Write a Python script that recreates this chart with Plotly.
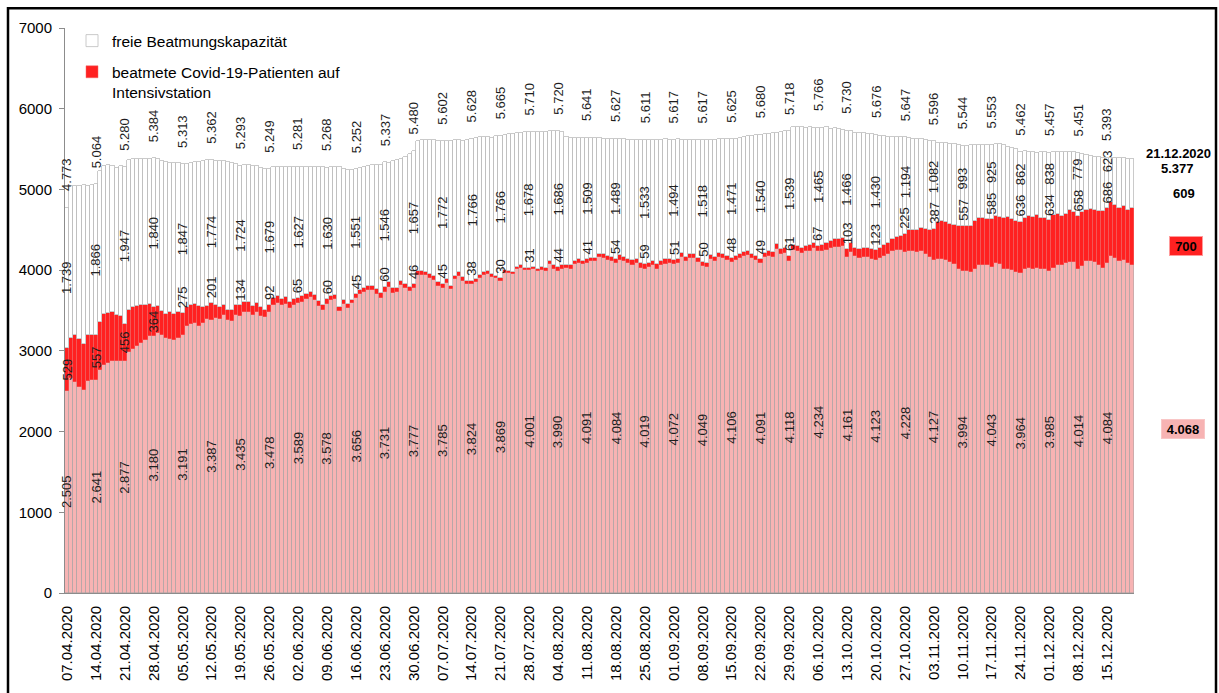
import plotly.graph_objects as go
import pandas as pd

# ---------------- data (daily values, 07.04.2020 - 21.12.2020) ----------------
start_date = "2020-04-07"

# beatmete Patienten ohne Covid-19 (rosa Sockel)
pink = [
    2505, 2661, 2620, 2558, 2517, 2628, 2640,
    2641, 2757, 2829, 2846, 2880, 2869, 2870,
    2877, 2982, 3021, 3056, 3095, 3130, 3182,
    3180, 3220, 3200, 3160, 3150, 3140, 3160,
    3191, 3311, 3330, 3350, 3311, 3351, 3396,
    3387, 3410, 3391, 3440, 3387, 3370, 3440,
    3435, 3482, 3477, 3443, 3484, 3436, 3414,
    3478, 3563, 3591, 3563, 3586, 3527, 3573,
    3589, 3610, 3641, 3663, 3632, 3561, 3509,
    3578, 3626, 3637, 3489, 3585, 3534, 3588,
    3656, 3710, 3724, 3755, 3752, 3709, 3659,
    3731, 3793, 3722, 3724, 3820, 3780, 3740,
    3777, 3946, 3945, 3935, 3905, 3884, 3803,
    3785, 3845, 3765, 3889, 3931, 3869, 3829,
    3824, 3852, 3902, 3936, 3957, 3917, 3898,
    3869, 3969, 3965, 3948, 4012, 4030, 3998,
    4001, 4011, 3985, 4003, 3993, 4073, 4018,
    3990, 4018, 4027, 4019, 4073, 4094, 4073,
    4091, 4112, 4110, 4157, 4155, 4125, 4115,
    4084, 4128, 4111, 4085, 4064, 4084, 4026,
    4019, 4035, 4058, 4018, 4061, 4082, 4083,
    4072, 4090, 4166, 4118, 4146, 4145, 4105,
    4049, 4044, 4135, 4119, 4169, 4148, 4128,
    4106, 4128, 4148, 4175, 4189, 4147, 4125,
    4091, 4165, 4179, 4169, 4262, 4199, 4218,
    4118, 4244, 4236, 4215, 4234, 4241, 4273,
    4234, 4234, 4253, 4277, 4292, 4287, 4302,
    4161, 4226, 4170, 4147, 4165, 4162, 4138,
    4123, 4150, 4174, 4199, 4238, 4245, 4244,
    4228, 4240, 4233, 4223, 4233, 4201, 4163,
    4127, 4143, 4134, 4126, 4102, 4073, 4012,
    3994, 3991, 3983, 4020, 4061, 4061, 4061,
    4043, 4085, 4073, 4020, 4020, 4004, 3971,
    3964, 4012, 4032, 4012, 4032, 4012, 4012,
    3985, 4032, 4061, 4060, 4093, 4102, 4102,
    4014, 4053, 4114, 4114, 4102, 4061, 4032,
    4084, 4175, 4155, 4114, 4126, 4093, 4068,
]

# beatmete Covid-19-Patienten auf Intensivstation
covid = [
    529, 503, 581, 586, 574, 565, 561,
    557, 600, 630, 625, 600, 570, 560,
    456, 530, 520, 505, 475, 440, 400,
    364, 335, 300, 300, 330, 320, 320,
    275, 230, 240, 232, 250, 190, 165,
    201, 160, 150, 130, 125, 142, 130,
    134, 128, 125, 118, 110, 105, 98,
    92, 88, 85, 80, 78, 75, 70,
    65, 66, 64, 62, 60, 62, 61,
    60, 58, 55, 52, 50, 48, 47,
    45, 48, 50, 52, 55, 57, 58,
    60, 55, 52, 50, 48, 47, 46,
    46, 45, 46, 44, 45, 46, 45,
    45, 44, 42, 41, 40, 40, 39,
    38, 37, 36, 35, 34, 33, 32,
    30, 31, 30, 31, 32, 31, 30,
    31, 33, 35, 37, 39, 41, 43,
    44, 43, 42, 42, 41, 40, 41,
    41, 43, 45, 47, 49, 50, 52,
    54, 55, 56, 57, 58, 58, 59,
    59, 58, 56, 55, 53, 52, 51,
    51, 52, 50, 49, 50, 51, 50,
    50, 49, 48, 48, 47, 48, 47,
    48, 47, 48, 49, 48, 49, 50,
    49, 51, 53, 55, 57, 58, 60,
    61, 62, 62, 63, 64, 65, 66,
    67, 72, 78, 83, 88, 93, 98,
    103, 105, 108, 110, 113, 116, 119,
    123, 128, 132, 140, 150, 168, 185,
    225, 255, 270, 280, 290, 310, 340,
    387, 450, 471, 467, 475, 491, 540,
    557, 561, 569, 585, 585, 585, 573,
    585, 590, 585, 626, 638, 630, 634,
    636, 634, 634, 646, 655, 634, 634,
    634, 655, 638, 615, 606, 638, 614,
    658, 663, 626, 643, 638, 667, 696,
    686, 664, 655, 655, 672, 655, 700,
]

# Gesamte Beatmungskapazitaet (Summe)
gesamt = [
    4773, 5040, 5048, 5045, 5050, 5042, 5055,
    5064, 5230, 5290, 5300, 5285, 5270, 5290,
    5280, 5370, 5375, 5378, 5380, 5372, 5378,
    5384, 5375, 5350, 5335, 5330, 5328, 5330,
    5313, 5320, 5328, 5335, 5340, 5350, 5360,
    5362, 5355, 5350, 5352, 5345, 5330, 5315,
    5293, 5301, 5300, 5289, 5288, 5265, 5252,
    5249, 5281, 5282, 5283, 5282, 5281, 5282,
    5281, 5281, 5276, 5280, 5283, 5280, 5273,
    5268, 5278, 5278, 5272, 5256, 5240, 5245,
    5252, 5260, 5281, 5288, 5297, 5297, 5298,
    5337, 5330, 5354, 5370, 5383, 5403, 5444,
    5480, 5600, 5610, 5615, 5612, 5608, 5600,
    5602, 5598, 5605, 5612, 5610, 5605, 5615,
    5628, 5640, 5650, 5655, 5645, 5640, 5660,
    5665, 5670, 5685, 5690, 5700, 5705, 5712,
    5710, 5708, 5712, 5715, 5712, 5725, 5722,
    5720, 5715, 5645, 5640, 5642, 5640, 5641,
    5641, 5640, 5638, 5640, 5630, 5628, 5630,
    5627, 5625, 5620, 5618, 5615, 5612, 5615,
    5611, 5613, 5612, 5615, 5618, 5620, 5618,
    5617, 5620, 5618, 5615, 5612, 5612, 5615,
    5617, 5615, 5612, 5615, 5620, 5622, 5625,
    5625, 5630, 5640, 5650, 5660, 5665, 5670,
    5680, 5685, 5690, 5700, 5700, 5715, 5720,
    5718, 5770, 5775, 5778, 5765, 5770, 5760,
    5766, 5755, 5770, 5750, 5755, 5745, 5740,
    5730, 5720, 5705, 5700, 5695, 5690, 5685,
    5676, 5668, 5660, 5655, 5655, 5650, 5652,
    5647, 5640, 5630, 5625, 5620, 5615, 5605,
    5596, 5580, 5575, 5570, 5565, 5560, 5555,
    5544, 5540, 5548, 5550, 5555, 5556, 5552,
    5553, 5560, 5560, 5555, 5530, 5510, 5495,
    5462, 5470, 5465, 5460, 5455, 5458, 5460,
    5457, 5462, 5465, 5465, 5462, 5460, 5458,
    5451, 5445, 5430, 5420, 5405, 5400, 5395,
    5393, 5395, 5390, 5388, 5385, 5380, 5377,
]

dates = pd.date_range(start_date, periods=len(pink), freq="D")
frei = [g - p - c for g, p, c in zip(gesamt, pink, covid)]

# ---------------- styling ----------------
FONT = "Liberation Sans, Arial, sans-serif"
PINK = "#F7B3B3"
RED = "#FF2121"
W, H = 1219, 693
L_PX, R_PX, T_PX, B_PX = 65, 1134, 28, 600
U = 7000 / (B_PX - T_PX)  # data units per pixel


def fmt(v):
    return f"{v:,}".replace(",", ".")


def tlen(s, size=13):
    return sum((0.556 if ch.isdigit() else 0.278) * size for ch in s)


fig = go.Figure()
fig.add_trace(go.Bar(
    x=dates, y=pink, name="beatmete Patienten ohne Covid-19", showlegend=False,
    marker=dict(color=PINK, line=dict(color="#A4A4A4", width=0.5)),
))
fig.add_trace(go.Bar(
    x=dates, y=covid, name="beatmete Covid-19-Patienten auf<br>Intensivstation",
    legendrank=2, legendgroup="b",
    marker=dict(color=RED, line=dict(color="#F06A6A", width=0.5)),
))
fig.add_trace(go.Bar(
    x=dates, y=frei, name="freie Beatmungskapazität",
    legendrank=1, legendgroup="a",
    marker=dict(color="white", line=dict(color="#BDBDBD", width=0.8)),
))

# ---------------- rotated data labels (weekly) ----------------
annots = []
lab_font = dict(family=FONT, size=13, color="#1e1e1e")
for i in range(0, len(pink) - 1, 7):
    x = dates[i]
    p, c, f, g = pink[i], covid[i], frei[i], gesamt[i]
    annots.append(dict(x=x, y=p / 2, text=fmt(p)))
    cs = fmt(c)
    lc = tlen(cs)
    if i < 100 and c > 350:
        cy = p + c / 2
    else:
        cy = p + c + (5 + lc / 2) * U
    annots.append(dict(x=x, y=cy, text=cs))
    fs = fmt(f)
    lf = tlen(fs)
    fy = max(p + c + f / 2, cy + (lc / 2 + 10 + lf / 2) * U)
    annots.append(dict(x=x, y=fy, text=fs))
    gs = fmt(g)
    annots.append(dict(x=x, y=g + (17 + tlen(gs) / 2) * U, text=gs))

for a in annots:
    a.update(xref="x", yref="y", textangle=-90, showarrow=False,
             xanchor="center", yanchor="middle", font=lab_font)


def px2paper(xpx):
    return (xpx - L_PX) / (R_PX - L_PX)


bold = dict(family=FONT, size=13, color="black", weight="bold")
last = len(pink) - 1
right_notes = [
    dict(x=px2paper(1178), y=gesamt[last], yshift=6,
         text=dates[last].strftime("%d.%m.%Y")),
    dict(x=px2paper(1177), y=gesamt[last], yshift=-9, text=fmt(gesamt[last])),
    dict(x=px2paper(1184), y=pink[last] + covid[last] + frei[last] / 2,
         yshift=-10, text=fmt(frei[last])),
    dict(x=px2paper(1186), y=pink[last] + covid[last] / 2, yshift=-10,
         text=fmt(covid[last]), bgcolor=RED, bordercolor="#FF9A9A",
         borderwidth=1, borderpad=2, width=28, height=14),
    dict(x=px2paper(1183), y=pink[last] / 2, text=fmt(pink[last]),
         bgcolor=PINK, bordercolor="#F9C6C6", borderwidth=1, borderpad=2,
         width=38, height=14),
]
for a in right_notes:
    a.update(xref="paper", yref="y", xanchor="center", yanchor="middle",
             showarrow=False, font=bold)
annots += right_notes

# outer frame
shapes = [dict(type="rect", xref="paper", yref="paper",
               x0=px2paper(8), x1=px2paper(1216),
               y0=(B_PX - 705) / (B_PX - T_PX), y1=(B_PX - 8) / (B_PX - T_PX),
               line=dict(color="black", width=2.5), fillcolor="rgba(0,0,0,0)",
               layer="above")]

fig.update_layout(
    width=W, height=H,
    margin=dict(l=L_PX, r=W - R_PX, t=T_PX, b=H - B_PX, pad=0),
    barmode="stack", bargap=0,
    plot_bgcolor="white", paper_bgcolor="white",
    font=dict(family=FONT, size=15, color="black"),
    annotations=annots, shapes=shapes,
    legend=dict(
        x=px2paper(72), y=(B_PX - 24) / (B_PX - T_PX), xanchor="left", yanchor="top",
        bgcolor="rgba(0,0,0,0)", font=dict(family=FONT, size=15.5, color="black"),
        traceorder="grouped", tracegroupgap=8, valign="top",
    ),
    xaxis=dict(
        type="date",
        range=[dates[0] - pd.Timedelta(hours=12), dates[-1] + pd.Timedelta(hours=12)],
        tickmode="array", tickvals=list(dates[::7]), tickformat="%d.%m.%Y",
        tickangle=-90, tickfont=dict(family=FONT, size=15, color="black"),
        showline=True, linecolor="#8C8C8C", linewidth=1,
        ticks="", showgrid=False, zeroline=False, ticklabelstandoff=6,
    ),
    yaxis=dict(
        range=[0, 7000], tickmode="linear", tick0=0, dtick=1000,
        tickformat="d", tickfont=dict(family=FONT, size=15, color="black"),
        showline=True, linecolor="#8C8C8C", linewidth=1,
        ticks="outside", ticklen=5, tickcolor="#8C8C8C",
        showgrid=False, zeroline=False, ticklabelstandoff=4,
    ),
)

fig.write_html(
    "out.html",
    config={"displayModeBar": False},
    post_script="document.body.style.margin='0';document.body.style.overflow='hidden';",
)
